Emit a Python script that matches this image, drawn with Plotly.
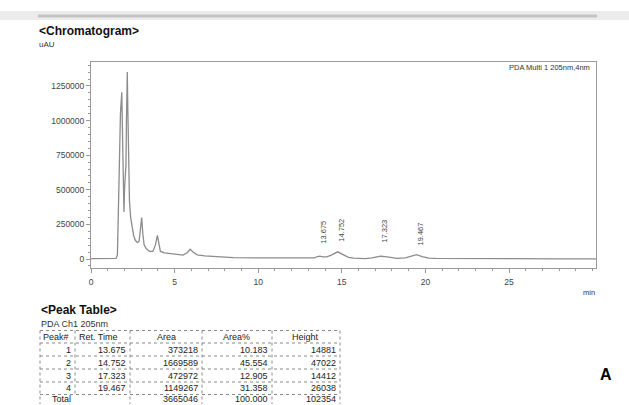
import plotly.graph_objects as go

# ---------------- data ----------------
time_min = [0.0, 1.0, 1.50, 1.58, 1.63, 1.70, 1.76, 1.81, 1.84, 1.87, 1.90, 1.94, 1.97,
            2.01, 2.05, 2.09, 2.12, 2.15, 2.17, 2.20, 2.23, 2.26, 2.30, 2.37, 2.45, 2.55,
            2.65, 2.78, 2.88, 2.95, 3.03, 3.10, 3.18, 3.30, 3.50, 3.70, 3.85, 3.97, 4.06,
            4.15, 4.40, 4.80, 5.20, 5.50, 5.75, 5.93, 6.10, 6.35, 6.80, 7.50, 8.50, 10.0,
            12.0, 13.0, 13.35, 13.55, 13.68, 13.85, 14.10, 14.40, 14.75, 15.10, 15.40,
            15.70, 16.00, 16.40, 16.80, 17.10, 17.32, 17.60, 17.90, 18.30, 18.80, 19.10,
            19.47, 19.80, 20.20, 20.60, 22.0, 25.0, 28.0, 30.2]
signal_uAU = [3000, 3000, 4000, 30000, 250000, 700000, 1050000, 1190000, 1205000, 1000000,
              650000, 420000, 340000, 520000, 650000, 680000, 1000000, 1300000, 1350000,
              1100000, 750000, 520000, 420000, 300000, 230000, 170000,
              135000, 118000, 130000, 210000, 300000, 180000, 100000, 75000, 55000, 55000,
              100000, 170000, 100000,
              55000, 45000, 38000, 30000, 28000, 45000, 70000, 50000, 30000, 22000, 15000,
              10000, 8000,
              6000, 6000, 8000, 18000, 21000, 16000, 15000, 30000, 52000, 30000, 12000,
              6000, 3000, 3000, 8000, 15000, 20000, 17000, 10000, 5000, 8000, 18000,
              31000, 18000, 7000, 5000, 3000, 2000, 1500, 1000]

peak_no = [1, 2, 3, 4]
ret_time = ["13.675", "14.752", "17.323", "19.467"]
area = ["373218", "1669589", "472972", "1149267"]
area_pct = ["10.183", "45.554", "12.905", "31.358"]
height = ["14881", "47022", "14412", "26038"]
total_row = ["Total", "", "3665046", "100.000", "102354"]
table_header = ["Peak#", "Ret. Time", "Area", "Area%", "Height"]

y_ticks = [0, 250000, 500000, 750000, 1000000, 1250000]
x_ticks = [0, 5, 10, 15, 20, 25]

# ---------------- layout helpers ----------------
W, H = 629, 405
L, R, T, B = 91, 33, 62, 137
PW, PH = W - L - R, H - T - B


def px(x):
    return (x - L) / PW


def py(y):
    return (H - B - y) / PH


FONT = "Liberation Sans, Arial, sans-serif"

fig = go.Figure()
fig.add_trace(go.Scatter(x=time_min, y=signal_uAU, mode="lines",
                         line=dict(color="#8c8c8c", width=1.3), hoverinfo="skip",
                         showlegend=False))

shapes = []
annotations = []

# top gray bar
shapes.append(dict(type="rect", xref="paper", yref="paper", x0=px(0), x1=px(W),
                   y0=py(20), y1=py(11), line=dict(width=0), fillcolor="#ececec", layer="above"))
shapes.append(dict(type="rect", xref="paper", yref="paper", x0=px(38), x1=px(597),
                   y0=py(17.5), y1=py(14.5), line=dict(width=0), fillcolor="#c4c4c4", layer="above"))

# headings
annotations.append(dict(text="<b>&lt;Chromatogram&gt;</b>", xref="paper", yref="paper",
                        x=px(37), y=py(31), xanchor="left", yanchor="middle", showarrow=False,
                        font=dict(family=FONT, size=12, color="#111")))
annotations.append(dict(text="uAU", xref="paper", yref="paper", x=px(37), y=py(44),
                        xanchor="left", yanchor="middle", showarrow=False,
                        font=dict(family=FONT, size=8, color="#333")))
annotations.append(dict(text="PDA Multi 1 205nm,4nm", xref="paper", yref="paper", x=px(592),
                        y=py(67), xanchor="right", yanchor="middle", showarrow=False,
                        font=dict(family=FONT, size=7.5, color="#333")))
annotations.append(dict(text="min", xref="paper", yref="paper", x=px(589), y=py(292),
                        xanchor="center", yanchor="middle", showarrow=False,
                        font=dict(family=FONT, size=7.5, color="#333")))

# peak labels
label_y = [232, 230, 231, 234]
for rt, ly in zip(ret_time, label_y):
    annotations.append(dict(text=rt, xref="x", yref="paper", x=float(rt), y=py(ly),
                            xanchor="center", yanchor="middle", textangle=-90, showarrow=False,
                            xshift=3, font=dict(family=FONT, size=7.5, color="#444")))

# peak table
annotations.append(dict(text="<b>&lt;Peak Table&gt;</b>", xref="paper", yref="paper",
                        x=px(39), y=py(310), xanchor="left", yanchor="middle", showarrow=False,
                        font=dict(family=FONT, size=12, color="#111")))
annotations.append(dict(text="PDA Ch1 205nm", xref="paper", yref="paper", x=px(39), y=py(324),
                        xanchor="left", yanchor="middle", showarrow=False,
                        font=dict(family=FONT, size=9, color="#333")))

col_edges = [40, 75, 130, 202, 272, 340]
row_edges = [330.5, 343, 356, 369, 382, 394.5, 404]
line_style = dict(color="#8a8a8a", width=1, dash="dot")
for i, ry in enumerate(row_edges[:-1]):
    shapes.append(dict(type="line", xref="paper", yref="paper", x0=px(col_edges[0]),
                       x1=px(col_edges[-1]), y0=py(ry), y1=py(ry), line=line_style))
for j, cx in enumerate(col_edges):
    y_end = row_edges[-1] if j != 1 else row_edges[-2]
    shapes.append(dict(type="line", xref="paper", yref="paper", x0=px(cx), x1=px(cx),
                       y0=py(row_edges[0]), y1=py(y_end), line=line_style))

tfont = dict(family=FONT, size=9, color="#222")
header_pos = [(41, "left"), (77, "left"), (166, "center"), (236, "center"), (305, "center")]
for (hx, anc), txt in zip(header_pos, table_header):
    annotations.append(dict(text=txt, xref="paper", yref="paper", x=px(hx),
                            y=py((row_edges[0] + row_edges[1]) / 2), xanchor=anc,
                            yanchor="middle", showarrow=False, font=tfont))

rows = [[str(p), r, a, ap, h] for p, r, a, ap, h in zip(peak_no, ret_time, area, area_pct, height)]
for i, row in enumerate(rows):
    yc = (row_edges[i + 1] + row_edges[i + 2]) / 2
    for j, txt in enumerate(row):
        annotations.append(dict(text=txt, xref="paper", yref="paper", x=px(col_edges[j + 1] - 2),
                                y=py(yc), xanchor="right", yanchor="middle", showarrow=False,
                                font=tfont))
yc = (row_edges[5] + row_edges[6]) / 2 - 0.5
annotations.append(dict(text=total_row[0], xref="paper", yref="paper", x=px(61), y=py(yc),
                        xanchor="center", yanchor="middle", showarrow=False, font=tfont))
for j in range(2, 5):
    annotations.append(dict(text=total_row[j], xref="paper", yref="paper",
                            x=px(col_edges[j + 1] - 2), y=py(yc), xanchor="right",
                            yanchor="middle", showarrow=False, font=tfont))

annotations.append(dict(text="<b>A</b>", xref="paper", yref="paper", x=px(606), y=py(374),
                        xanchor="center", yanchor="middle", showarrow=False,
                        font=dict(family=FONT, size=16, color="#000")))

axis_common = dict(showline=True, linecolor="#9a9a9a", linewidth=1, mirror=True,
                   showgrid=False, zeroline=False, ticks="outside", tickcolor="#9a9a9a",
                   tickfont=dict(family=FONT, size=8.5, color="#444"))

fig.update_layout(
    width=W, height=H, margin=dict(l=L, r=R, t=T, b=B),
    paper_bgcolor="white", plot_bgcolor="white", showlegend=False,
    xaxis=dict(range=[0, 30.2], tickvals=x_ticks, ticklen=4, ticklabelstandoff=2,
               minor=dict(dtick=1, ticks="outside", ticklen=2, tickcolor="#9a9a9a"),
               **axis_common),
    yaxis=dict(range=[-65000, 1423000], tickvals=y_ticks, tickformat="d", ticklen=4,
               minor=dict(dtick=50000, ticks="outside", ticklen=2, tickcolor="#9a9a9a"),
               **axis_common),
    shapes=shapes, annotations=annotations,
)

fig.write_html("out.html")
